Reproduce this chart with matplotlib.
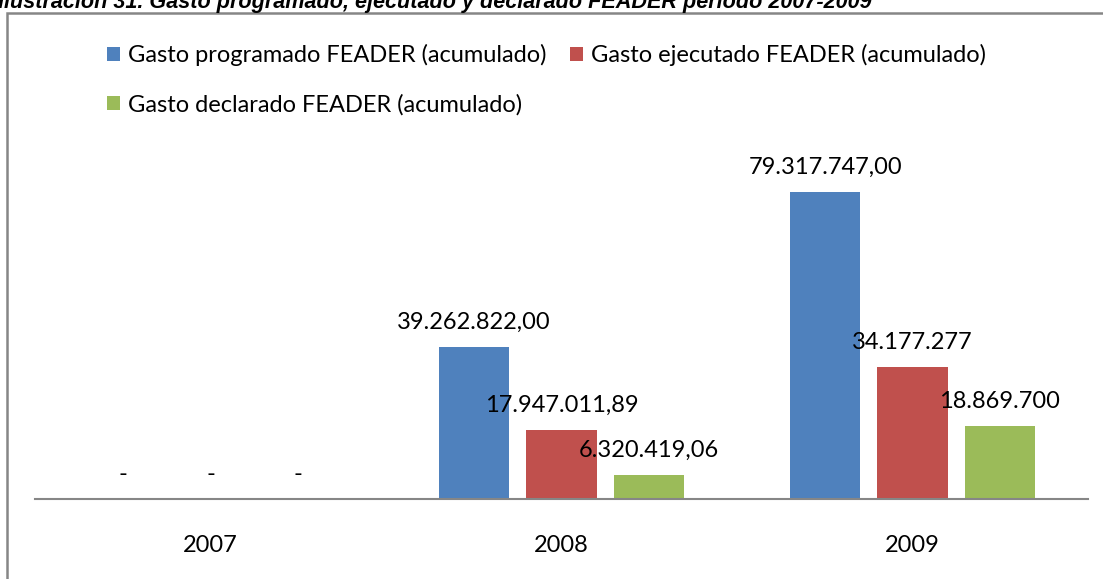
import numpy as np
import matplotlib.pyplot as plt
from matplotlib.patches import Patch, Rectangle

plt.rcParams["font.family"] = ["Lato", "DejaVu Sans"]

years = ["2007", "2008", "2009"]
programado = [0, 39262822.00, 79317747.00]
ejecutado = [0, 17947011.89, 34177277]
declarado = [0, 6320419.06, 18869700]

lab_programado = ["-", "39.262.822,00", "79.317.747,00"]
lab_ejecutado = ["-", "17.947.011,89", "34.177.277"]
lab_declarado = ["-", "6.320.419,06", "18.869.700"]

names = ["Gasto programado FEADER (acumulado)",
         "Gasto ejecutado FEADER (acumulado)",
         "Gasto declarado FEADER (acumulado)"]
colors = ["#4F81BD", "#C0504D", "#9BBB59"]

W, H = 1103, 579
fig = plt.figure(figsize=(W / 100, H / 100), dpi=100)

# chart frame (cut off at right and bottom)
fig.add_artist(Rectangle((7 / W, -0.2), 1.3, 1 - 13 / H + 0.2, transform=fig.transFigure,
                         fill=False, ec="#868686", lw=1.8))

fig.text(-2 / W, 1 - 8 / H,
         "Ilustración 31. Gasto programado, ejecutado y declarado FEADER período 2007-2009",
         fontsize=15.6, fontweight="bold", fontstyle="italic", family="Liberation Sans",
         va="baseline", ha="left")

ax = fig.add_axes([35 / W, 1 - 499 / H, (1088 - 35) / W, 348.4 / H])
x = np.arange(len(years))
step = 0.249
width = 0.2

series = [(programado, lab_programado), (ejecutado, lab_ejecutado), (declarado, lab_declarado)]
handles = []
for i, (vals, labs) in enumerate(series):
    pos = x + (i - 1) * step
    ax.bar(pos, vals, width, color=colors[i], zorder=2)
    for px, v, t in zip(pos, vals, labs):
        ax.annotate(t, (px, v), xytext=(0, 13), textcoords="offset points",
                    ha="center", va="baseline", fontsize=17, color="black", zorder=3)
    handles.append(Patch(facecolor=colors[i], edgecolor="none", label=names[i]))

ax.set_xlim(-0.5, 2.5)
ax.set_ylim(0, 90e6)
ax.set_xticks(x)
ax.set_xticklabels(years, fontsize=17)
ax.tick_params(axis="x", length=0, pad=26)
ax.set_yticks([])
for s in ["top", "right", "left"]:
    ax.spines[s].set_visible(False)
ax.spines["bottom"].set_color("#868686")
ax.spines["bottom"].set_linewidth(1.5)
ax.spines["bottom"].set_zorder(4)
ax.patch.set_alpha(0)

order = [0, 2, 1]
fig.legend([handles[k] for k in order], [names[k] for k in order], ncol=2,
           loc="upper left", bbox_to_anchor=(107 / W, 1 - 44 / H), frameon=False,
           fontsize=17, borderpad=0, borderaxespad=0, handlelength=0.55, handleheight=0.55,
           handletextpad=0.33, columnspacing=1.0, labelspacing=1.17)

fig.savefig("out.png", dpi=100)
